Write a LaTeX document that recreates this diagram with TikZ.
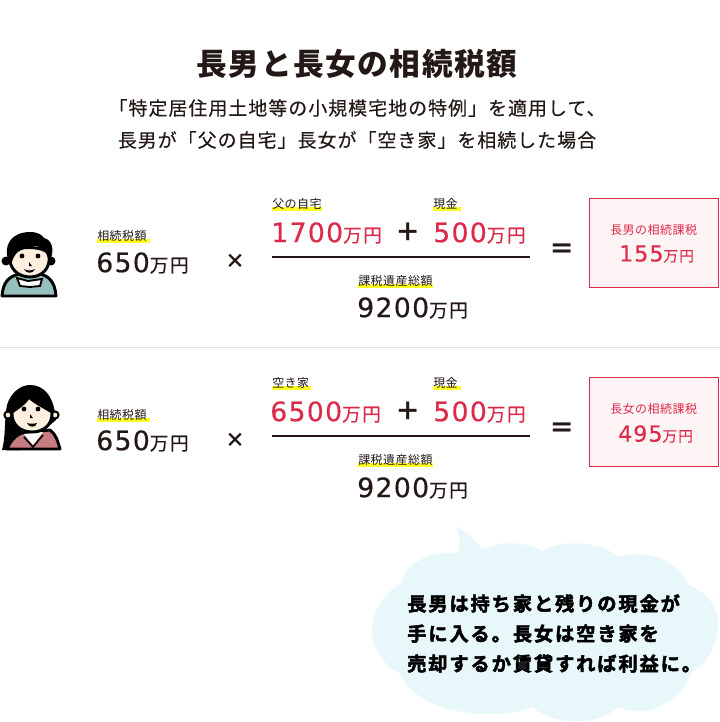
\documentclass[tikz,border=0pt]{standalone}
\usepackage{fontspec}
\setmainfont{Noto Sans CJK JP}
\newfontfamily\numfont[LetterSpace=5,FakeBold=0.5]{DejaVu Sans}
\newfontfamily\smallfont[LetterSpace=4]{Noto Sans CJK JP}
\newfontfamily\manfont[LetterSpace=8,FakeBold=0.4]{Noto Sans CJK JP}
\newfontfamily\titlefont[LetterSpace=5]{Noto Sans CJK JP}
\newfontfamily\subfont[LetterSpace=5.5,FakeBold=0.3]{Noto Sans CJK JP}
\newfontfamily\cloudfont[LetterSpace=10,FakeBold=2.5]{Noto Sans CJK JP Bold}
\definecolor{inkblack}{HTML}{231815}
\definecolor{rosered}{HTML}{DC2A4B}
\definecolor{rosepale}{HTML}{FDF4F5}
\definecolor{hlyellow}{HTML}{FFFF22}
\definecolor{cloudblue}{HTML}{E8F8FA}
\definecolor{skincream}{HTML}{FCEFE0}
\definecolor{shirtteal}{HTML}{96BFBE}
\definecolor{shirtrose}{HTML}{C67C80}
\newcommand{\manyen}[1][14]{{\manfont\fontsize{#1}{#1}\selectfont 万円}}
\tikzset{
  base/.style={anchor=west,inner sep=0pt,text=inkblack},
  tag/.style={base,font=\smallfont\fontsize{9}{9}\selectfont},
  amount/.style={base,font=\numfont\fontsize{20}{20}\selectfont},
  redamount/.style={amount,text=rosered},
  sign/.style={inner sep=0pt,text=inkblack,font=\bfseries\fontsize{19}{19}\selectfont},
  timessign/.style={sign,font=\bfseries\fontsize{15}{15}\selectfont},
  resultbox/.style={draw=rosered,fill=rosepale,line width=0.75pt},
  hl/.style={fill=hlyellow},
  outline/.style={draw=black,line width=2.2pt,line join=round}
}
\begin{document}
\begin{tikzpicture}[x=0.75pt,y=-0.75pt]
  \useasboundingbox (0,0) rectangle (720,722);

  % heading
  \node[inner sep=0pt,text=inkblack,font=\titlefont\bfseries\fontsize{23}{23}\selectfont] (title) at (357,64) {長男と長女の相続税額};
  \node[inner sep=0pt,text=inkblack,align=center,font=\subfont\fontsize{14.2}{24}\selectfont] (subtitle) at (357,124) {「特定居住用土地等の小規模宅地の特例」を適用して、\\長男が「父の自宅」長女が「空き家」を相続した場合};

  % highlights
  \fill[hl] (97,239) rectangle (150,243);
  \fill[hl] (272,207) rectangle (322,211);
  \fill[hl] (433,207) rectangle (461,211);
  \fill[hl] (358,284) rectangle (433,288);
  \fill[hl] (97,418) rectangle (150,422);
  \fill[hl] (272,386) rectangle (311,390);
  \fill[hl] (433,386) rectangle (461,390);
  \fill[hl] (358,463) rectangle (433,467);

  % eldest son
  \draw[outline,fill=shirtteal] (2,296) .. controls (3,282) and (9,276) .. (20,274) -- (40,274) .. controls (49,276) and (55,282) .. (56,296) -- cycle;
  \fill (6,261) circle (4.5);
  \fill (51,261) circle (4.5);
  \draw[fill=white,line width=1.4pt] (17,278) -- (28,281) -- (42,279) -- (40,286) -- (30,287) -- (20,286) -- cycle;
  \draw[outline,fill=skincream] (10,255) .. controls (10,245) and (47,245) .. (49,255) .. controls (51,268) and (42,277) .. (30,277) .. controls (18,277) and (8,268) .. (10,255) -- cycle;
  \fill (9,262) .. controls (2,245) and (12,232) .. (30,232) .. controls (38,232) and (42,235) .. (44,238) .. controls (53,240) and (55,252) .. (49,262) -- (47,255) .. controls (44,249) and (40,246) .. (34,246) .. controls (24,250) and (16,248) .. (12,262) -- cycle;
  \fill (22,256) circle (2.4);
  \fill (38,256) circle (2.4);
  \fill (29,262) -- (32,266) -- (29,266) -- cycle;
  \fill (24,269) .. controls (27,271) and (31,271) .. (35,269) .. controls (33,274) and (26,274) .. (24,269) -- cycle;

  % eldest daughter
  \fill (2,450) .. controls (6,436) and (4,420) .. (7,405) .. controls (11,392) and (21,385) .. (30,385) .. controls (44,385) and (54,396) .. (56,420) -- (20,450) -- cycle;
  \draw[outline,fill=shirtrose] (7,449) .. controls (10,442) and (14,436) .. (22,433) -- (50,430) .. controls (56,434) and (58,442) .. (60,449) -- cycle;
  \fill[white] (24,434) -- (33,445) -- (43,432) -- cycle;
  \draw[line width=1.2pt] (24,437) -- (33,447) -- (43,435);
  \draw[fill=skincream,line width=1.5pt] (8,415) circle (3.6);
  \draw[fill=skincream,line width=1.5pt] (55,415) circle (3.6);
  \draw[outline,fill=skincream] (12,412) .. controls (18,408) and (25,403) .. (29,397) .. controls (35,403) and (46,408) .. (52,412) .. controls (53,424) and (44,432) .. (32,432) .. controls (20,432) and (11,424) .. (12,412) -- cycle;
  \fill (24,409) circle (2.4);
  \fill (38,409) circle (2.4);
  \fill (30,414) -- (33,418) -- (30,418) -- cycle;
  \fill (27,423) .. controls (30,424) and (34,424) .. (37,423) .. controls (36,428) and (29,428) .. (27,423) -- cycle;

  % first row
  \node[tag] (sontag) at (97,236) {相続税額};
  \node[amount] (sontax) at (96,263) {650\manyen};
  \node[timessign] (sontimes) at (235,261) {×};
  \node[tag] (sonhome) at (272,204) {父の自宅};
  \node[tag] (soncash) at (433,204) {現金};
  \node[redamount] (sonhomeval) at (271,233) {1700\manyen};
  \node[sign] (sonplus) at (408,232) {＋};
  \node[redamount] (soncashval) at (433,233) {500\manyen};
  \coordinate (sonrulea) at (272,257);
  \coordinate (sonruleb) at (530,257);
  \draw[line width=1.5pt,draw=inkblack] (sonrulea) -- (sonruleb);
  \node[tag] (sontotal) at (358,281) {課税遺産総額};
  \node[amount] (sontotalval) at (357,308) {9200\manyen};
  \node[sign] (sonequal) at (562,251) {＝};
  \draw[resultbox] (589.5,198.5) rectangle (718.5,287.5);
  \node[tag,text=rosered] (sonresult) at (610,230) {長男の相続課税};
  \node[redamount,font=\numfont\fontsize{16.5}{16.5}\selectfont] (sonresultval) at (619,254) {155\manyen[11]};

  \coordinate (sepa) at (0,347);
  \coordinate (sepb) at (720,347);
  \draw[draw=black!12,line width=0.75pt] (sepa) -- (sepb);

  % second row
  \node[tag] (dautag) at (97,415) {相続税額};
  \node[amount] (dautax) at (96,441) {650\manyen};
  \node[timessign] (dautimes) at (235,440) {×};
  \node[tag] (dauhome) at (272,383) {空き家};
  \node[tag] (daucash) at (433,383) {現金};
  \node[redamount] (dauhomeval) at (270,412) {6500\manyen};
  \node[sign] (dauplus) at (408,411) {＋};
  \node[redamount] (daucashval) at (433,412) {500\manyen};
  \coordinate (daurulea) at (272,436);
  \coordinate (dauruleb) at (530,436);
  \draw[line width=1.5pt,draw=inkblack] (daurulea) -- (dauruleb);
  \node[tag] (dautotal) at (358,460) {課税遺産総額};
  \node[amount] (dautotalval) at (357,488) {9200\manyen};
  \node[sign] (dauequal) at (562,430) {＝};
  \draw[resultbox] (589.5,377.5) rectangle (718.5,466.5);
  \node[tag,text=rosered] (dauresult) at (610,409) {長女の相続課税};
  \node[redamount,font=\numfont\fontsize{16.5}{16.5}\selectfont] (dauresultval) at (618,434) {495\manyen[11]};

  % cloud
  \fill[cloudblue] (456,527) .. controls (466,531) and (476,540) .. (482,550)
    .. controls (500,540) and (528,542) .. (543,551)
    .. controls (560,540) and (600,540) .. (618,557)
    .. controls (640,550) and (675,555) .. (688,585)
    .. controls (708,592) and (718,608) .. (718,623)
    .. controls (718,648) and (705,665) .. (690,673)
    .. controls (688,695) and (650,722) .. (618,707)
    .. controls (600,726) and (550,726) .. (533,707)
    .. controls (500,722) and (415,715) .. (400,673)
    .. controls (385,668) and (372,648) .. (372,630)
    .. controls (372,610) and (385,592) .. (402,583)
    .. controls (402,565) and (430,550) .. (458,553)
    .. controls (461,545) and (460,535) .. (456,527) -- cycle;
  \node[inner sep=0pt,anchor=north west,align=left,text=black,font=\cloudfont\fontsize{14.4}{22.5}\selectfont] (cloudtext) at (407,594) {長男は持ち家と残りの現金が\\手に入る。長女は空き家を\\売却するか賃貸すれば利益に。};
\end{tikzpicture}
\end{document}
